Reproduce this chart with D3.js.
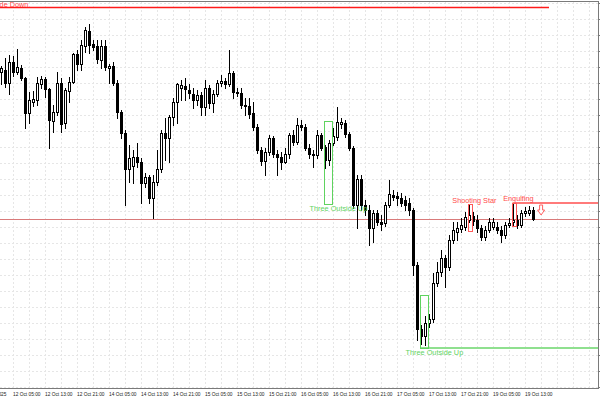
<!DOCTYPE html>
<html><head><meta charset="utf-8">
<script src="https://cdn.jsdelivr.net/npm/d3@7"></script>
<style>html,body{margin:0;padding:0;background:#fff;} svg{display:block;}</style>
</head><body>
<svg id="c" width="600" height="400"></svg>
<script>
// ---- data (hourly candles, arbitrary price units) ----
const opens = [
328,330,317,338,328,332,322,287,298,300,
316,321,311,279,288,317,277,309,318,346,
336,354,369,356,354,340,354,332,334,317,
288,267,231,234,243,238,217,223,202,218,
231,267,262,283,298,312,314,310,306,300,
305,293,312,297,306,317,319,316,327,308,
307,295,294,287,273,250,239,248,262,246,
243,238,246,265,258,275,273,252,246,245,
265,253,240,257,263,276,277,266,252,195,
221,195,190,172,187,178,177,195,205,204,
202,200,197,190,135,71,64,77,81,117,
128,142,133,160,168,171,173,180,184,180,
172,163,170,173,173,170,165,175,178,180,
175,187,187,190];
const highs = [
334,342,345,344,351,335,323,308,309,323,
324,323,312,295,328,322,312,323,347,350,
360,373,376,360,360,360,360,336,338,320,
290,270,255,250,257,242,227,225,225,250,
270,282,285,302,317,320,322,316,312,310,
308,320,315,310,320,325,322,350,329,312,
312,302,302,298,276,253,252,265,264,250,
248,252,267,270,282,280,276,256,250,270,
267,255,260,272,293,282,280,268,254,225,
225,200,195,190,190,185,198,220,210,208,
207,204,202,192,138,75,84,86,127,138,
150,145,165,178,178,182,188,196,188,185,
175,174,182,182,178,174,178,182,197,185,
190,193,194,193];
const lows = [
316,313,306,324,326,320,272,277,294,295,
312,303,252,268,285,268,272,298,317,330,
330,348,347,350,337,332,330,317,315,282,
262,195,218,217,233,197,213,197,182,215,
228,240,238,275,277,300,300,302,292,295,
285,285,292,288,304,314,312,314,302,304,
292,285,282,270,247,235,225,245,243,225,
231,237,242,255,256,270,250,242,233,242,
250,232,235,255,260,272,263,250,192,172,
190,185,155,158,175,170,174,193,200,195,
194,190,185,125,60,56,55,73,78,114,
124,113,130,157,160,168,170,178,175,168,
160,160,168,171,167,158,162,173,175,172,
173,184,185,180];
const closes = [
332,317,338,328,333,322,287,300,301,317,
321,311,280,288,317,276,310,318,346,336,
355,370,355,353,341,354,333,334,317,288,
267,231,242,243,238,217,223,202,218,231,
267,262,283,298,316,315,311,307,300,305,
293,312,297,306,317,319,316,327,308,307,
295,294,286,273,250,239,248,262,246,243,
238,246,265,258,275,273,252,246,245,265,
252,240,257,264,278,278,266,252,195,221,
195,190,172,187,178,176,195,206,203,202,
197,195,190,135,71,64,77,81,117,128,
142,133,160,170,172,175,183,185,179,172,
163,170,178,178,170,165,175,177,180,175,
187,189,190,181];

const timeLabels = ["12 Oct 05:00","12 Oct 13:00","12 Oct 21:00","14 Oct 05:00","14 Oct 13:00","14 Oct 21:00",
  "15 Oct 05:00","15 Oct 13:00","15 Oct 21:00","16 Oct 05:00","16 Oct 13:00","16 Oct 21:00",
  "17 Oct 05:00","17 Oct 13:00","17 Oct 21:00","19 Oct 05:00","19 Oct 13:00"];
const timeLabelBars = [3,11,19,27,35,43,51,59,67,75,83,91,99,107,115,123,131];
const firstDateLabel = "12 Oct 2025";
const bidPrice = 181;

// pattern boxes: first bar, last bar, high, low
const greenBoxes = [[81,82,279,196],[105,106,105,52]];
const redBoxes = [[117,117,196,169],[128,128,197,174]];
const patternTexts = ["Three Outside Up","Three Outside Up","Shooting Star","Engulfing","Three Outside Down"];
const patternTextBars = [84.6,108.6,118.6,129.6,7.1];
const patternTextPrices = [189,45,197,199,393.5];
const levelLines = [[0,137.25,392.5],[105.25,150,52],[128.75,150,197]];

// ---- drawing ----
const svg = d3.select("#c");
const x = d3.scaleLinear().domain([0,150]).range([0,600]);
const y = d3.scaleLinear().domain([12,398]).range([388,2]);
const right = 598.5, bottom = 388.5;

// grid
const g = svg.append("g").attr("shape-rendering","crispEdges");
const vGrid = d3.range(3,149,4);
g.selectAll("line.vg").data(vGrid).join("line")
  .attr("x1",d=>x(d)+1.5).attr("x2",d=>x(d)+1.5).attr("y1",2).attr("y2",bottom)
  .attr("stroke","#e6e6e6").attr("stroke-dasharray","2,2");
const hGrid = d3.range(397,12,-16);
g.selectAll("line.hg").data(hGrid).join("line")
  .attr("x1",0).attr("x2",right).attr("y1",d=>y(d)+0.5).attr("y2",d=>y(d)+0.5)
  .attr("stroke","#e6e6e6").attr("stroke-dasharray","2,2");

// bid line
svg.append("line").attr("x1",0).attr("x2",right).attr("y1",y(bidPrice)+0.5).attr("y2",y(bidPrice)+0.5)
  .attr("stroke","#d97a7a").attr("stroke-width",1).attr("shape-rendering","crispEdges");

// level lines
const lvColors = ["#ff1a1a","#8fe08f","#ff7a7a"];
const lvWidths = [1.4,2.2,2.2];
levelLines.forEach((l,k)=>{
  svg.append("line").attr("x1",x(l[0])).attr("x2",Math.min(x(l[1]),right)).attr("y1",y(l[2])).attr("y2",y(l[2]))
    .attr("stroke",lvColors[k]).attr("stroke-width",lvWidths[k]);
});

// candles
const idx = d3.range(opens.length);
const cg = svg.append("g").attr("shape-rendering","crispEdges");
cg.selectAll("line.w").data(idx).join("line")
  .attr("x1",i=>x(i)+1.5).attr("x2",i=>x(i)+1.5)
  .attr("y1",i=>y(highs[i])).attr("y2",i=>y(lows[i])+1)
  .attr("stroke","#000");
cg.selectAll("rect.b").data(idx).join("rect")
  .attr("x",i=>x(i)+0.5).attr("width",2)
  .attr("y",i=>Math.min(y(opens[i]),y(closes[i]))+0.5)
  .attr("height",i=>Math.max(0.01,Math.abs(y(opens[i])-y(closes[i]))))
  .attr("fill",i=>closes[i]>=opens[i]?"#fff":"#000")
  .attr("stroke","#000").attr("stroke-width",1);

// pattern boxes
function boxes(data,color){
  svg.append("g").attr("shape-rendering","crispEdges").selectAll("rect").data(data).join("rect")
    .attr("x",d=>x(d[0])+0.5).attr("width",d=>x(d[1])+4-x(d[0]))
    .attr("y",d=>y(d[2])+0.5).attr("height",d=>y(d[3])-y(d[2]))
    .attr("fill","none").attr("stroke",color).attr("stroke-width",1);
}
boxes(greenBoxes,"#5fd35f");
boxes(redBoxes,"#ff5a5a");

// pattern texts
const txtColors = ["#5fd35f","#5fd35f","#ff4a4a","#ff4a4a","#ff4a4a"];
const txtAnchor = ["middle","middle","middle","middle","end"];
svg.append("g").selectAll("text").data(patternTexts).join("text")
  .attr("x",(d,k)=>x(patternTextBars[k])).attr("y",(d,k)=>y(patternTextPrices[k]))
  .attr("text-anchor",(d,k)=>txtAnchor[k])
  .attr("font-family","Liberation Sans, Arial, sans-serif").attr("font-size",7.3)
  .attr("fill",(d,k)=>txtColors[k]).text(d=>d);

// sell arrow (after last candle)
const ax = x(134.4), ay = y(195);
svg.append("path")
  .attr("d",`M${ax+2},${ay} h3 v5 h2 l-3.5,5 l-3.5,-5 h2 z`)
  .attr("fill","#fff").attr("stroke","#ff6060").attr("stroke-width",1);

// frame
const fr = svg.append("g").attr("shape-rendering","crispEdges").attr("stroke","#7a7a7a");
fr.append("line").attr("x1",0).attr("x2",right).attr("y1",1.5).attr("y2",1.5);
fr.append("line").attr("x1",right).attr("x2",right).attr("y1",1).attr("y2",bottom);
fr.append("line").attr("x1",0).attr("x2",right).attr("y1",bottom).attr("y2",bottom);
fr.selectAll("line.t").data(hGrid).join("line")
  .attr("x1",right).attr("x2",right+3).attr("y1",d=>y(d)+0.5).attr("y2",d=>y(d)+0.5);

// time axis
const ta = svg.append("g").attr("font-family","Liberation Sans, Arial, sans-serif").attr("font-size",4.8).attr("fill","#222");
ta.selectAll("text").data(timeLabels).join("text")
  .attr("x",(d,k)=>x(timeLabelBars[k])+1).attr("y",396).text(d=>d);
ta.append("text").attr("x",x(1.6)).attr("y",396).attr("text-anchor","end").text(firstDateLabel);
</script>
</body></html>
